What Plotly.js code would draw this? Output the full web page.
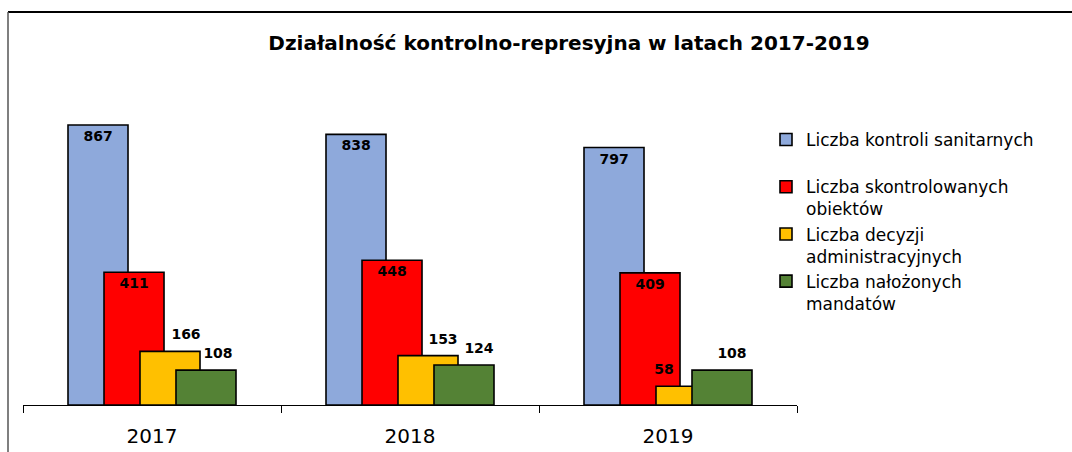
<!DOCTYPE html>
<html>
<head>
<meta charset="utf-8">
<script src="https://cdn.plot.ly/plotly-3.0.1.min.js"></script>
<style>
  html, body { margin: 0; padding: 0; background: #ffffff; }
  #chart { width: 1072px; height: 452px; }
</style>
</head>
<body>
<div id="chart"></div>
<script>
const years = ['2017', '2018', '2019'];
const kontroleSanitarne = [867, 838, 797];
const skontrolowaneObiekty = [411, 448, 409];
const decyzjeAdministracyjne = [166, 153, 58];
const nalozoneMandaty = [108, 124, 108];
const seriesNames = [
  'Liczba kontroli sanitarnych<br> ',
  'Liczba skontrolowanych<br>obiektów',
  'Liczba decyzji<br>administracyjnych',
  'Liczba nałożonych<br>mandatów'
];
const chartTitle = 'Działalność kontrolno-represyjna w latach 2017-2019';

// styling / placement (not data)
const colors = ['#8EA9DB', '#FF0000', '#FFC000', '#548235'];
const barWidth = 0.2326;
const offsets = [-0.3256, -0.186, -0.0465, 0.093];
const catPx = 258;
// label nudges in pixels for labels drawn above bars (yellow, green)
const labelNudgePx = [[0, 0, 0], [0, 0, 0], [16, 15, -22], [12, 15, 10]];
const values = [kontroleSanitarne, skontrolowaneObiekty, decyzjeAdministracyjne, nalozoneMandaty];

const labelFont = { family: 'DejaVu Sans', size: 14, color: '#000000', weight: 'bold' };

const traces = values.map((v, i) => ({
  type: 'bar',
  x: years,
  y: v,
  name: seriesNames[i],
  width: barWidth,
  offset: offsets[i],
  marker: { color: colors[i], line: { color: '#000000', width: 1.6 } },
  text: i < 2 ? v.map(String) : undefined,
  textposition: i < 2 ? 'inside' : 'none',
  insidetextanchor: 'end',
  textangle: 0,
  constraintext: 'none',
  cliponaxis: false,
  textfont: labelFont,
  insidetextfont: labelFont,
  hoverinfo: 'skip'
}));

// labels above the yellow and green bars, drawn on top of all bars
[2, 3].forEach((k) => {
  traces.push({
    type: 'scatter',
    mode: 'markers+text',
    xaxis: 'x2',
    yaxis: 'y',
    x: values[k].map((_, i) => i + offsets[k] + barWidth / 2 + labelNudgePx[k][i] / catPx),
    y: values[k],
    text: values[k].map(String),
    textposition: 'top center',
    textfont: labelFont,
    marker: { size: 12, opacity: 0 },
    showlegend: false,
    hoverinfo: 'skip',
    cliponaxis: false
  });
});

const px = (p) => (p - 23) / 774;
const py = (p) => (405 - p) / 323;

const layout = {
  width: 1072,
  height: 452,
  margin: { l: 23, r: 275, t: 82, b: 47 },
  paper_bgcolor: '#ffffff',
  plot_bgcolor: '#ffffff',
  barmode: 'overlay',
  showlegend: true,
  title: {
    text: '<b>' + chartTitle + '</b>',
    font: { family: 'DejaVu Sans', size: 20, color: '#000000' },
    xref: 'container', x: 569 / 1072, xanchor: 'center',
    yref: 'container', y: 1 - 43 / 452, yanchor: 'middle'
  },
  xaxis: {
    type: 'category',
    range: [-0.5, 2.5],
    showline: true, linecolor: '#000000', linewidth: 1,
    ticks: 'outside', tickson: 'boundaries', ticklen: 7, tickcolor: '#000000', tickwidth: 1,
    ticklabelstandoff: 13,
    tickfont: { family: 'DejaVu Sans', size: 20, color: '#000000' },
    showgrid: false, zeroline: false, fixedrange: true
  },
  xaxis2: {
    overlaying: 'x', anchor: 'y',
    range: [-0.5, 2.5],
    visible: false, showgrid: false, zeroline: false, fixedrange: true
  },
  yaxis: {
    range: [0, 1000],
    visible: false, showgrid: false, zeroline: false, fixedrange: true
  },
  legend: {
    x: px(766), xanchor: 'left',
    y: py(122), yanchor: 'top',
    valign: 'top',
    bgcolor: 'rgba(0,0,0,0)',
    font: { family: 'DejaVu Sans', size: 17, color: '#000000' },
    traceorder: 'normal'
  },
  shapes: [
    { type: 'line', xref: 'paper', yref: 'paper', x0: px(8), x1: px(1072), y0: py(12), y1: py(12),
      line: { color: '#000000', width: 2 } },
    { type: 'line', xref: 'paper', yref: 'paper', x0: px(8), x1: px(8), y0: py(12), y1: py(452),
      line: { color: '#555555', width: 1.5 } }
  ]
};

Plotly.newPlot('chart', traces, layout, { displayModeBar: false, staticPlot: true });
</script>
</body>
</html>
